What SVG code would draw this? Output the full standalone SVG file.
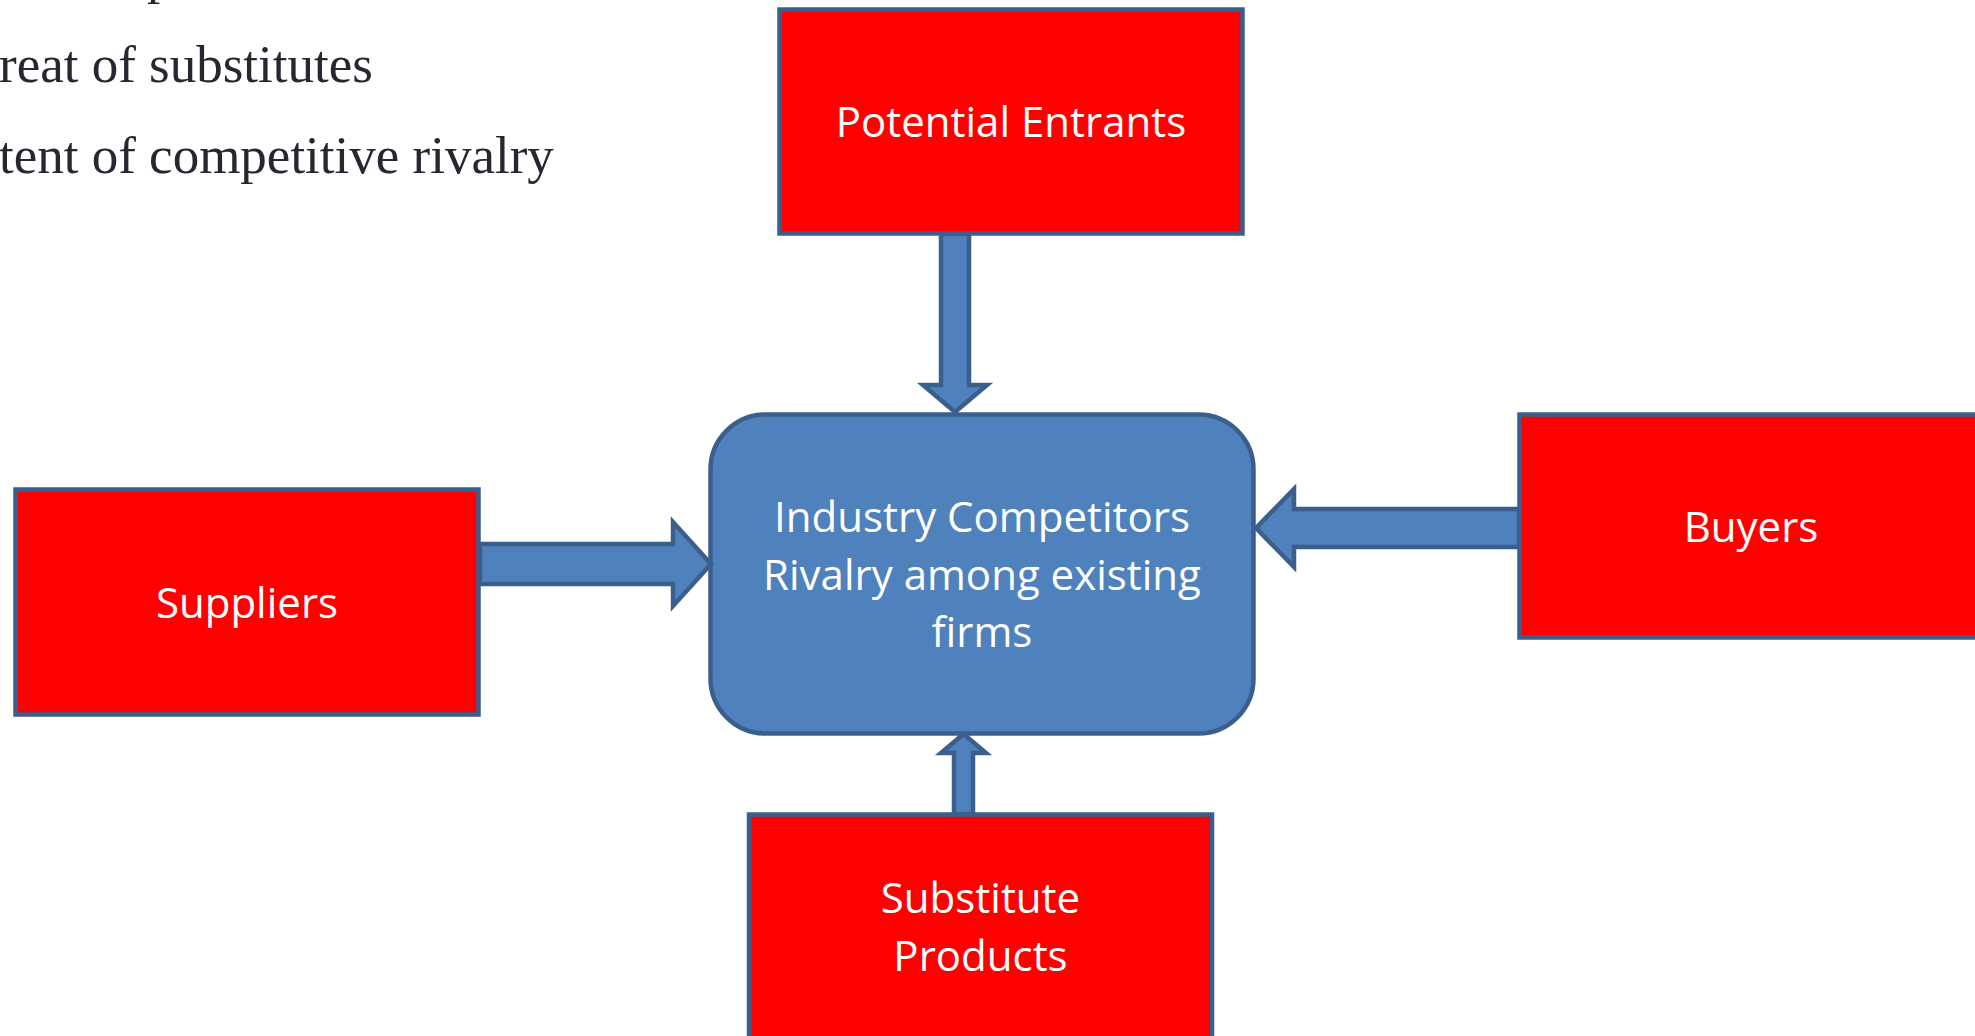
<svg xmlns="http://www.w3.org/2000/svg" width="1975" height="1036" viewBox="0 0 1975 1036">
  <style>
    .force { fill: #FF0000; stroke: #3B5F8C; stroke-width: 4.5; }
    .core { fill: #4F81BD; stroke: #3B5F8C; stroke-width: 4.5; }
    .label { font-family: "Open Sans", "Noto Sans", sans-serif; font-size: 42px; fill: #FFFFFF; text-anchor: middle; }
    .bullet { font-family: "Liberation Serif", "DejaVu Serif", serif; font-size: 53px; fill: #272631; }
    .flow { fill: #4F81BD; stroke: #3B5F8C; stroke-width: 4.5; stroke-linejoin: miter; }
  </style>

  <!-- bullet list text along the top-left edge -->
  <g id="bullet-list">
    <text class="bullet" x="147" y="-7">p</text>
    <text class="bullet" x="-1" y="82">reat of substitutes</text>
    <text class="bullet" x="-1" y="173">tent of competitive rivalry</text>
  </g>

  <g id="potential-entrants">
    <rect class="force" x="779.5" y="9.5" width="463" height="224"/>
    <text class="label" x="1011" y="137">Potential Entrants</text>
  </g>

  <g id="suppliers">
    <rect class="force" x="15.5" y="489.5" width="463" height="225"/>
    <text class="label" x="247" y="618">Suppliers</text>
  </g>

  <g id="buyers">
    <rect class="force" x="1519.5" y="414.5" width="463" height="223"/>
    <text class="label" x="1751" y="542">Buyers</text>
  </g>

  <g id="substitute-products">
    <rect class="force" x="749" y="814.5" width="463" height="230"/>
    <text class="label" x="980.5" y="913">Substitute</text>
    <text class="label" x="980.5" y="971">Products</text>
  </g>

  <g id="industry-competitors">
    <rect class="core" x="710.5" y="414.5" width="543" height="319" rx="55" ry="55"/>
    <text class="label" x="982" y="532">Industry Competitors</text>
    <text class="label" x="982" y="590">Rivalry among existing</text>
    <text class="label" x="982" y="647">firms</text>
  </g>

  <!-- block arrows pointing into the central box -->
  <g id="connectors">
    <polygon class="flow" points="941,234 969,234 969,385 987,385 955,412 923,385 941,385"/>
    <polygon class="flow" points="480,544 673,544 673,522 711,564 673,606 673,584 480,584"/>
    <polygon class="flow" points="1519,509 1294,509 1294,489 1256,528 1294,567 1294,547 1519,547"/>
    <polygon class="flow" points="954,814 954,753 941,753 963.5,734 986,753 973,753 973,814"/>
  </g>
</svg>
